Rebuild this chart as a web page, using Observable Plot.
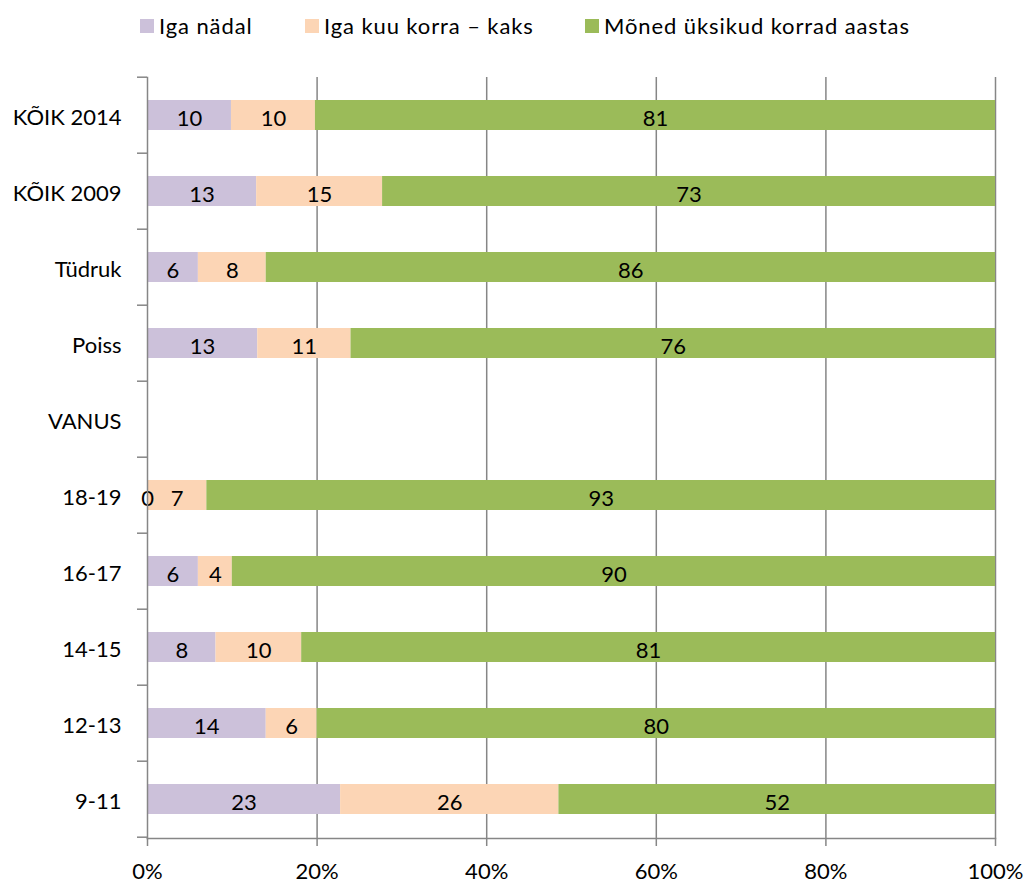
<!DOCTYPE html>
<html>
<head>
<meta charset="utf-8">
<script src="https://cdn.jsdelivr.net/npm/d3@7"></script>
<script src="https://cdn.jsdelivr.net/npm/@observablehq/plot@0.6"></script>
<style>
  html, body { margin: 0; padding: 0; background: #fff; }
  body { width: 1031px; height: 884px; overflow: hidden; font-family: Lato, "Open Sans", sans-serif; }
  #legend { height: 50px; position: relative; font-size: 22px; letter-spacing: 0.9px; color: #000; }
  .item { position: absolute; top: 12px; display: flex; align-items: center; white-space: nowrap; }
  .sw { width: 14px; height: 14px; margin-right: 5px; }
</style>
</head>
<body>
<div id="legend"></div>
<div id="chart"></div>
<script>
const categories = ["KÕIK 2014", "KÕIK 2009", "Tüdruk", "Poiss", "VANUS", "18-19", "16-17", "14-15", "12-13", "9-11"];
const series = ["Iga nädal", "Iga kuu korra – kaks", "Mõned üksikud korrad aastas"];
const weekly  = [10, 13, 6, 13, null, 0, 6, 8, 14, 23];
const monthly = [10, 15, 8, 11, null, 7, 4, 10, 6, 26];
const yearly  = [81, 73, 86, 76, null, 93, 90, 81, 80, 52];
const xTicks = [0, 0.2, 0.4, 0.6, 0.8, 1];
const colors = ["#CCC1DA", "#FCD5B5", "#9BBB59"];

const seriesValues = [weekly, monthly, yearly];
const data = [];
series.forEach((s, si) => {
  categories.forEach((c, ci) => {
    const v = seriesValues[si][ci];
    if (v != null) data.push({cat: c, series: s, value: v});
  });
});

// legend
const legendLeft = [140, 305, 585];
const legend = document.getElementById("legend");
series.forEach((s, i) => {
  const it = document.createElement("div");
  it.className = "item";
  it.style.left = legendLeft[i] + "px";
  const sw = document.createElement("span");
  sw.className = "sw";
  sw.style.background = colors[i];
  const t = document.createElement("span");
  t.textContent = s;
  it.appendChild(sw); it.appendChild(t);
  legend.appendChild(it);
});

const PAD_INNER = 0.6;
const grey = "#868686";

const plot = Plot.plot({
  width: 1031,
  height: 834,
  marginTop: 27,
  marginBottom: 46,
  marginLeft: 147,
  marginRight: 36,
  style: {fontFamily: "Lato, 'Open Sans', sans-serif", fontSize: "22px", color: "#000", background: "#fff"},
  x: {domain: [0, 1], label: null},
  y: {domain: categories, paddingInner: PAD_INNER, paddingOuter: PAD_INNER / 2, label: null},
  color: {domain: series, range: colors},
  marks: [
    Plot.gridX(xTicks.slice(1), {stroke: grey, strokeOpacity: 1, strokeWidth: 1.5}),
    Plot.barX(data, Plot.stackX({x: "value", y: "cat", z: "series", fill: "series", order: series, offset: "normalize"})),
    Plot.text(data, Plot.stackX({x: "value", y: "cat", z: "series", order: series, offset: "normalize", text: d => String(d.value), fill: "#000", fontSize: 22, dy: 3})),
    Plot.frame({anchor: "left", stroke: grey, strokeWidth: 1.5}),
    Plot.frame({anchor: "bottom", stroke: grey, strokeWidth: 1.5}),
    Plot.axisX({ticks: xTicks, tickFormat: d3.format(".0%"), tickSize: 8, tickPadding: 17, stroke: grey, strokeWidth: 1.5, strokeOpacity: 1, fontSize: 22, label: null}),
    Plot.axisY({tickSize: 0, tickPadding: 26, fontSize: 22, dy: 2, label: null})
  ]
});

document.getElementById("chart").appendChild(plot);

// boundary ticks on the y axis, from the y scale
const ys = plot.scale("y");
const step = ys.step;
const x0 = plot.scale("x").apply(0);
const bounds = categories.map(c => ys.apply(c) - PAD_INNER * step / 2);
bounds.push(bounds[bounds.length - 1] + step);
d3.select(plot).append("g")
  .selectAll("line").data(bounds).join("line")
  .attr("x1", x0 - 10).attr("x2", x0)
  .attr("y1", d => d).attr("y2", d => d)
  .attr("stroke", grey).attr("stroke-width", 1.5);
</script>
</body>
</html>
